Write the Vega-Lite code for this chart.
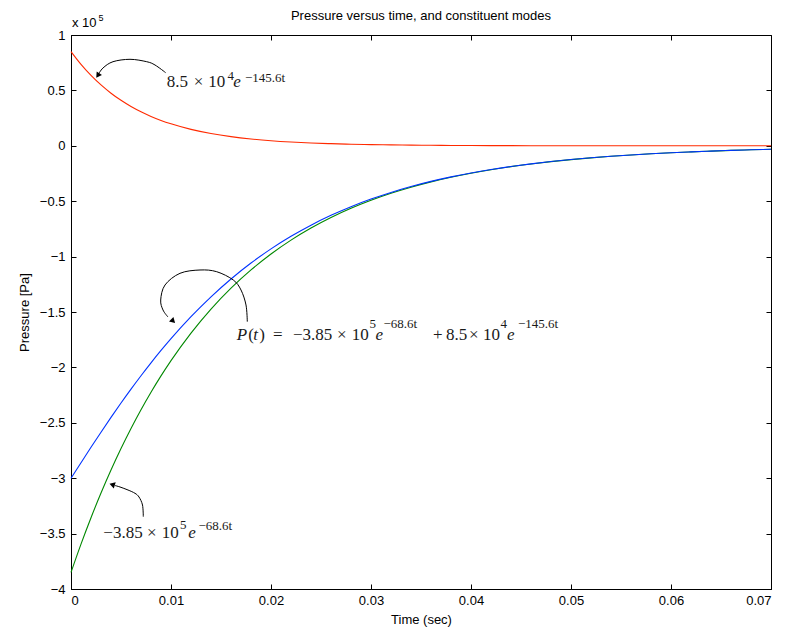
{
  "$schema": "https://vega.github.io/schema/vega-lite/v6.json",
  "width": 700,
  "height": 554,
  "autosize": "none",
  "padding": {"left": 71, "top": 35, "right": 17, "bottom": 44},
  "background": "white",
  "config": {
    "view": {"stroke": "black", "strokeWidth": 1},
    "font": "Liberation Sans",
    "axis": {
      "domainColor": "black", "tickColor": "black", "labelColor": "black", "titleColor": "black",
      "labelFont": "Liberation Sans", "labelFontSize": 13, "titleFont": "Liberation Sans",
      "titleFontSize": 13, "titleFontWeight": "normal", "grid": false, "tickSize": -5
    }
  },
  "title": {"text": "Pressure versus time, and constituent modes", "fontSize": 13, "fontWeight": "normal", "font": "Liberation Sans", "color": "black", "offset": -9},
  "datasets": {
    "curves": [
      {"t": 0, "p": 0.85, "s": "r"}, {"t": 0.001, "p": 0.73483, "s": "r"}, {"t": 0.002, "p": 0.63526, "s": "r"}, {"t": 0.003, "p": 0.54919, "s": "r"}, {"t": 0.004, "p": 0.47477, "s": "r"}, {"t": 0.005, "p": 0.41044, "s": "r"}, {"t": 0.006, "p": 0.35483, "s": "r"}, {"t": 0.007, "p": 0.30675, "s": "r"}, {"t": 0.008, "p": 0.26519, "s": "r"}, {"t": 0.009, "p": 0.22926, "s": "r"}, {"t": 0.01, "p": 0.19819, "s": "r"}, {"t": 0.012, "p": 0.14812, "s": "r"}, {"t": 0.014, "p": 0.1107, "s": "r"}, {"t": 0.016, "p": 0.08273, "s": "r"}, {"t": 0.018, "p": 0.06183, "s": "r"}, {"t": 0.02, "p": 0.04621, "s": "r"}, {"t": 0.022, "p": 0.03454, "s": "r"}, {"t": 0.024, "p": 0.02581, "s": "r"}, {"t": 0.026, "p": 0.01929, "s": "r"}, {"t": 0.028, "p": 0.01442, "s": "r"}, {"t": 0.03, "p": 0.01077, "s": "r"}, {"t": 0.032, "p": 0.00805, "s": "r"}, {"t": 0.034, "p": 0.00602, "s": "r"}, {"t": 0.036, "p": 0.0045, "s": "r"}, {"t": 0.038, "p": 0.00336, "s": "r"}, {"t": 0.04, "p": 0.00251, "s": "r"}, {"t": 0.044, "p": 0.0014, "s": "r"}, {"t": 0.048, "p": 0.00078, "s": "r"}, {"t": 0.052, "p": 0.00044, "s": "r"}, {"t": 0.056, "p": 0.00024, "s": "r"}, {"t": 0.06, "p": 0.00014, "s": "r"}, {"t": 0.064, "p": 0.00008, "s": "r"}, {"t": 0.07, "p": 0.00003, "s": "r"},
      {"t": 0, "p": -3.85, "s": "g"}, {"t": 0.001, "p": -3.59475, "s": "g"}, {"t": 0.002, "p": -3.35641, "s": "g"}, {"t": 0.003, "p": -3.13388, "s": "g"}, {"t": 0.004, "p": -2.9261, "s": "g"}, {"t": 0.005, "p": -2.73211, "s": "g"}, {"t": 0.006, "p": -2.55097, "s": "g"}, {"t": 0.007, "p": -2.38184, "s": "g"}, {"t": 0.008, "p": -2.22392, "s": "g"}, {"t": 0.009, "p": -2.07648, "s": "g"}, {"t": 0.01, "p": -1.93881, "s": "g"}, {"t": 0.012, "p": -1.69025, "s": "g"}, {"t": 0.014, "p": -1.47355, "s": "g"}, {"t": 0.016, "p": -1.28463, "s": "g"}, {"t": 0.018, "p": -1.11994, "s": "g"}, {"t": 0.02, "p": -0.97636, "s": "g"}, {"t": 0.022, "p": -0.85118, "s": "g"}, {"t": 0.024, "p": -0.74206, "s": "g"}, {"t": 0.026, "p": -0.64692, "s": "g"}, {"t": 0.028, "p": -0.56399, "s": "g"}, {"t": 0.03, "p": -0.49168, "s": "g"}, {"t": 0.032, "p": -0.42864, "s": "g"}, {"t": 0.034, "p": -0.37369, "s": "g"}, {"t": 0.036, "p": -0.32578, "s": "g"}, {"t": 0.038, "p": -0.28402, "s": "g"}, {"t": 0.04, "p": -0.24761, "s": "g"}, {"t": 0.042, "p": -0.21586, "s": "g"}, {"t": 0.044, "p": -0.18818, "s": "g"}, {"t": 0.046, "p": -0.16406, "s": "g"}, {"t": 0.048, "p": -0.14303, "s": "g"}, {"t": 0.05, "p": -0.12469, "s": "g"}, {"t": 0.052, "p": -0.1087, "s": "g"}, {"t": 0.054, "p": -0.09477, "s": "g"}, {"t": 0.056, "p": -0.08262, "s": "g"}, {"t": 0.058, "p": -0.07203, "s": "g"}, {"t": 0.06, "p": -0.06279, "s": "g"}, {"t": 0.062, "p": -0.05474, "s": "g"}, {"t": 0.064, "p": -0.04772, "s": "g"}, {"t": 0.066, "p": -0.04161, "s": "g"}, {"t": 0.068, "p": -0.03627, "s": "g"}, {"t": 0.07, "p": -0.03162, "s": "g"},
      {"t": 0, "p": -3.0, "s": "b"}, {"t": 0.001, "p": -2.85992, "s": "b"}, {"t": 0.002, "p": -2.72115, "s": "b"}, {"t": 0.003, "p": -2.58469, "s": "b"}, {"t": 0.004, "p": -2.45133, "s": "b"}, {"t": 0.005, "p": -2.32167, "s": "b"}, {"t": 0.006, "p": -2.19614, "s": "b"}, {"t": 0.007, "p": -2.07509, "s": "b"}, {"t": 0.008, "p": -1.95873, "s": "b"}, {"t": 0.009, "p": -1.84722, "s": "b"}, {"t": 0.01, "p": -1.74062, "s": "b"}, {"t": 0.012, "p": -1.54213, "s": "b"}, {"t": 0.014, "p": -1.36285, "s": "b"}, {"t": 0.016, "p": -1.2019, "s": "b"}, {"t": 0.018, "p": -1.05811, "s": "b"}, {"t": 0.02, "p": -0.93015, "s": "b"}, {"t": 0.022, "p": -0.81664, "s": "b"}, {"t": 0.024, "p": -0.71625, "s": "b"}, {"t": 0.026, "p": -0.62763, "s": "b"}, {"t": 0.028, "p": -0.54957, "s": "b"}, {"t": 0.03, "p": -0.48091, "s": "b"}, {"t": 0.032, "p": -0.42059, "s": "b"}, {"t": 0.034, "p": -0.36767, "s": "b"}, {"t": 0.036, "p": -0.32128, "s": "b"}, {"t": 0.038, "p": -0.28066, "s": "b"}, {"t": 0.04, "p": -0.2451, "s": "b"}, {"t": 0.042, "p": -0.21398, "s": "b"}, {"t": 0.044, "p": -0.18678, "s": "b"}, {"t": 0.046, "p": -0.16301, "s": "b"}, {"t": 0.048, "p": -0.14225, "s": "b"}, {"t": 0.05, "p": -0.1241, "s": "b"}, {"t": 0.052, "p": -0.10826, "s": "b"}, {"t": 0.054, "p": -0.09444, "s": "b"}, {"t": 0.056, "p": -0.08238, "s": "b"}, {"t": 0.058, "p": -0.07185, "s": "b"}, {"t": 0.06, "p": -0.06265, "s": "b"}, {"t": 0.062, "p": -0.05464, "s": "b"}, {"t": 0.064, "p": -0.04764, "s": "b"}, {"t": 0.066, "p": -0.04155, "s": "b"}, {"t": 0.068, "p": -0.03623, "s": "b"}, {"t": 0.07, "p": -0.03159, "s": "b"}
    ],
    "labels": [
      {"t": 0.00957, "p": 0.5307, "text": "8.5", "role": "m"},
      {"t": 0.01228, "p": 0.5307, "text": "×", "role": "m"},
      {"t": 0.01373, "p": 0.5307, "text": "10", "role": "m"},
      {"t": 0.01565, "p": 0.59, "text": "4", "role": "s"},
      {"t": 0.01623, "p": 0.5307, "text": "e", "role": "i"},
      {"t": 0.0174, "p": 0.58, "text": "−145.6t", "role": "s"},
      {"t": 0.00323, "p": -3.5397, "text": "−3.85", "role": "m"},
      {"t": 0.0076, "p": -3.5397, "text": "×", "role": "m"},
      {"t": 0.00907, "p": -3.5397, "text": "10", "role": "m"},
      {"t": 0.0109, "p": -3.455, "text": "5", "role": "s"},
      {"t": 0.01173, "p": -3.5397, "text": "e", "role": "i"},
      {"t": 0.01275, "p": -3.4675, "text": "−68.6t", "role": "s"},
      {"t": 0.01657, "p": -1.7527, "text": "P", "role": "i"},
      {"t": 0.01773, "p": -1.7527, "text": "(", "role": "m"},
      {"t": 0.01823, "p": -1.7527, "text": "t", "role": "i"},
      {"t": 0.01883, "p": -1.7527, "text": ")", "role": "m"},
      {"t": 0.0202, "p": -1.7527, "text": "=", "role": "m"},
      {"t": 0.0222, "p": -1.7527, "text": "−3.85", "role": "m"},
      {"t": 0.0266, "p": -1.7527, "text": "×", "role": "m"},
      {"t": 0.02807, "p": -1.7527, "text": "10", "role": "m"},
      {"t": 0.02985, "p": -1.64, "text": "5", "role": "s"},
      {"t": 0.03045, "p": -1.7527, "text": "e", "role": "i"},
      {"t": 0.03125, "p": -1.645, "text": "−68.6t", "role": "s"},
      {"t": 0.0362, "p": -1.7527, "text": "+", "role": "m"},
      {"t": 0.0375, "p": -1.7527, "text": "8.5", "role": "m"},
      {"t": 0.0398, "p": -1.7527, "text": "×", "role": "m"},
      {"t": 0.0412, "p": -1.7527, "text": "10", "role": "m"},
      {"t": 0.04295, "p": -1.64, "text": "4", "role": "s"},
      {"t": 0.0436, "p": -1.7527, "text": "e", "role": "i"},
      {"t": 0.0447, "p": -1.645, "text": "−145.6t", "role": "s"},
      {"t": 0.0001, "p": 1.0749, "text": "x 10", "role": "h"},
      {"t": 0.00275, "p": 1.129, "text": "5", "role": "hs"}
    ],
    "arrows": [
      {"a": "r", "i": 0, "t": 0.00947, "p": 0.6597}, {"a": "r", "i": 1, "t": 0.0084, "p": 0.7292}, {"a": "r", "i": 2, "t": 0.00757, "p": 0.759}, {"a": "r", "i": 3, "t": 0.0059, "p": 0.7807}, {"a": "r", "i": 4, "t": 0.0042, "p": 0.759}, {"a": "r", "i": 5, "t": 0.0032, "p": 0.7022}, {"a": "r", "i": 6, "t": 0.0027, "p": 0.639},
      {"a": "b", "i": 0, "t": 0.01763, "p": -1.5875}, {"a": "b", "i": 1, "t": 0.0175, "p": -1.4368}, {"a": "b", "i": 2, "t": 0.017, "p": -1.3014}, {"a": "b", "i": 3, "t": 0.01623, "p": -1.2112}, {"a": "b", "i": 4, "t": 0.01457, "p": -1.1363}, {"a": "b", "i": 5, "t": 0.0129, "p": -1.1209}, {"a": "b", "i": 6, "t": 0.0109, "p": -1.1507}, {"a": "b", "i": 7, "t": 0.0094, "p": -1.2563}, {"a": "b", "i": 8, "t": 0.00897, "p": -1.3917}, {"a": "b", "i": 9, "t": 0.0092, "p": -1.4819}, {"a": "b", "i": 10, "t": 0.0097, "p": -1.5451},
      {"a": "g", "i": 0, "t": 0.00723, "p": -3.3475}, {"a": "g", "i": 1, "t": 0.00715, "p": -3.2419}, {"a": "g", "i": 2, "t": 0.0068, "p": -3.1697}, {"a": "g", "i": 3, "t": 0.0064, "p": -3.1363}, {"a": "g", "i": 4, "t": 0.0057, "p": -3.1065}, {"a": "g", "i": 5, "t": 0.0049, "p": -3.0794}, {"a": "g", "i": 6, "t": 0.0044, "p": -3.0659}
    ]
  },
  "encoding": {
    "x": {"field": "t", "type": "quantitative", "scale": {"domain": [0, 0.07], "nice": false, "zero": false}, "axis": null},
    "y": {"field": "p", "type": "quantitative", "scale": {"domain": [-4, 1], "nice": false, "zero": false}, "axis": null}
  },
  "layer": [
    {
      "data": {"name": "curves"},
      "mark": {"type": "line", "opacity": 0},
      "encoding": {
        "x": {"field": "t", "type": "quantitative", "scale": {"domain": [0, 0.07], "nice": false, "zero": false},
              "axis": {"orient": "top", "values": [0, 0.01, 0.02, 0.03, 0.04, 0.05, 0.06, 0.07], "labels": false, "title": null, "domain": false}},
        "y": {"field": "p", "type": "quantitative", "scale": {"domain": [-4, 1], "nice": false, "zero": false},
              "axis": {"orient": "right", "values": [-4, -3.5, -3, -2.5, -2, -1.5, -1, -0.5, 0, 0.5, 1], "labels": false, "title": null, "domain": false}},
        "detail": {"field": "s"}
      }
    },
    {
      "data": {"name": "curves"},
      "mark": {"type": "line", "strokeWidth": 1.1, "interpolate": "monotone"},
      "encoding": {
        "x": {"field": "t", "type": "quantitative", "scale": {"domain": [0, 0.07], "nice": false, "zero": false},
              "axis": {"orient": "bottom", "values": [0, 0.01, 0.02, 0.03, 0.04, 0.05, 0.06, 0.07], "format": "~g", "title": "Time (sec)", "labelPadding": 10, "titlePadding": 6}},
        "y": {"field": "p", "type": "quantitative", "scale": {"domain": [-4, 1], "nice": false, "zero": false},
              "axis": {"orient": "left", "values": [-4, -3.5, -3, -2.5, -2, -1.5, -1, -0.5, 0, 0.5, 1], "format": "~g", "title": "Pressure [Pa]", "labelPadding": 11, "titlePadding": 8}},
        "color": {"field": "s", "type": "nominal", "scale": {"domain": ["r", "g", "b"], "range": ["#ff2a00", "#008800", "#0033ff"]}, "legend": null}
      }
    },
    {
      "data": {"name": "arrows"},
      "mark": {"type": "line", "color": "black", "strokeWidth": 1, "interpolate": "cardinal"},
      "encoding": {
        "detail": {"field": "a"},
        "order": {"field": "i", "type": "quantitative"}
      }
    },
    {
      "data": {"values": [{"t": 0.00273, "p": 0.6408}]},
      "mark": {"type": "point", "shape": "triangle", "filled": true, "color": "black", "opacity": 1, "size": 40, "angle": 214}
    },
    {
      "data": {"values": [{"t": 0.01015, "p": -1.5767}]},
      "mark": {"type": "point", "shape": "triangle", "filled": true, "color": "black", "opacity": 1, "size": 40, "angle": 135}
    },
    {
      "data": {"values": [{"t": 0.0042, "p": -3.0596}]},
      "mark": {"type": "point", "shape": "triangle", "filled": true, "color": "black", "opacity": 1, "size": 40, "angle": 288}
    },
    {
      "data": {"name": "labels"},
      "transform": [{"filter": "datum.role === 'm'"}],
      "mark": {"type": "text", "align": "left", "baseline": "alphabetic", "font": "Liberation Serif", "fontSize": 17, "color": "#1a1a1a"},
      "encoding": {"text": {"field": "text"}}
    },
    {
      "data": {"name": "labels"},
      "transform": [{"filter": "datum.role === 'i'"}],
      "mark": {"type": "text", "align": "left", "baseline": "alphabetic", "font": "Liberation Serif", "fontSize": 17, "fontStyle": "italic", "color": "#1a1a1a"},
      "encoding": {"text": {"field": "text"}}
    },
    {
      "data": {"name": "labels"},
      "transform": [{"filter": "datum.role === 's'"}],
      "mark": {"type": "text", "align": "left", "baseline": "alphabetic", "font": "Liberation Serif", "fontSize": 13, "color": "#1a1a1a"},
      "encoding": {"text": {"field": "text"}}
    },
    {
      "data": {"name": "labels"},
      "transform": [{"filter": "datum.role === 'h'"}],
      "mark": {"type": "text", "align": "left", "baseline": "alphabetic", "font": "Liberation Sans", "fontSize": 13, "color": "black"},
      "encoding": {"text": {"field": "text"}}
    },
    {
      "data": {"name": "labels"},
      "transform": [{"filter": "datum.role === 'hs'"}],
      "mark": {"type": "text", "align": "left", "baseline": "alphabetic", "font": "Liberation Sans", "fontSize": 9, "color": "black"},
      "encoding": {"text": {"field": "text"}}
    }
  ],
  "resolve": {"axis": {"x": "independent", "y": "independent"}}
}
